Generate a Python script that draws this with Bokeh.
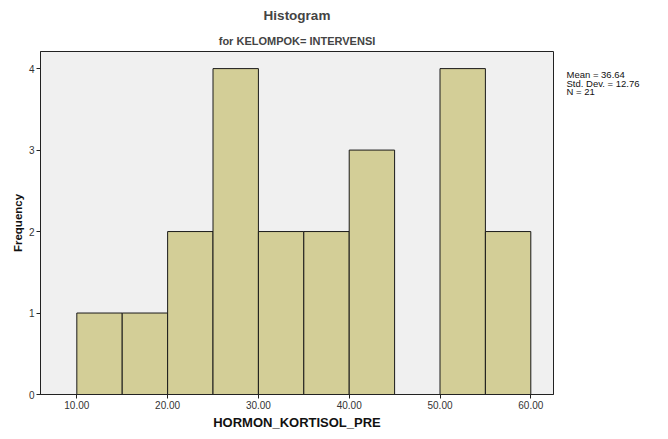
from bokeh.plotting import figure
from bokeh.layouts import row
from bokeh.models import Title, Label, FixedTicker, NumeralTickFormatter, Range1d
from bokeh.embed import file_html
from bokeh.resources import INLINE

bin_left = [10, 15, 20, 25, 30, 35, 40, 45, 50, 55]
bin_right = [15, 20, 25, 30, 35, 40, 45, 50, 55, 60]
counts = [1, 1, 2, 4, 2, 2, 3, 0, 4, 2]
x_ticks = [10, 20, 30, 40, 50, 60]
y_ticks = [0, 1, 2, 3, 4]
stats = ["Mean = 36.64", "Std. Dev. = 12.76", "N = 21"]

FONT = "Liberation Sans"

p = figure(frame_width=513, frame_height=343, output_backend="svg", toolbar_location=None,
           x_range=Range1d(6.0, 62.5), y_range=Range1d(0, 4.21),
           min_border_left=40, min_border_right=4, min_border_top=0, min_border_bottom=0)
p.background_fill_color = "#F0F0F0"
p.border_fill_color = "white"
p.outline_line_color = "#222222"
p.outline_line_width = 1
p.grid.visible = False

p.title.text = "Histogram"
p.title.align = "center"
p.title.text_font = FONT
p.title.text_font_size = "13.5px"
p.title.text_font_style = "bold"
p.title.offset = 0
p.add_layout(Title(text="for KELOMPOK= INTERVENSI", align="center", text_font=FONT,
                   text_font_size="11px", text_font_style="bold"), "above")

p.quad(left=bin_left, right=bin_right, bottom=0, top=counts,
       fill_color="#D3CE97", line_color="#1a1a1a", line_width=1)

p.xaxis.ticker = FixedTicker(ticks=x_ticks)
p.xaxis.formatter = NumeralTickFormatter(format="0.00")
p.yaxis.ticker = FixedTicker(ticks=y_ticks)
for ax in (p.xaxis, p.yaxis):
    ax.minor_tick_line_color = None
    ax.major_tick_in = 0
    ax.major_tick_out = 4
    ax.major_label_standoff = 2
    ax.major_tick_line_color = "#222222"
    ax.axis_line_color = "#222222"
    ax.major_label_text_font = FONT
    ax.major_label_text_font_size = "10px"
    ax.major_label_text_color = "#333333"
    ax.axis_label_text_font = FONT
    ax.axis_label_text_font_style = "bold"
    ax.axis_label_text_color = "#111111"
p.xaxis.axis_label = "HORMON_KORTISOL_PRE"
p.xaxis.axis_label_text_font_size = "13px"
p.xaxis.axis_label_standoff = 3
p.yaxis.axis_label = "Frequency"
p.yaxis.axis_label_text_font_size = "11.5px"
p.yaxis.axis_label_standoff = 2

s = figure(frame_width=88, frame_height=343, output_backend="svg", toolbar_location=None,
           x_range=Range1d(0, 88), y_range=Range1d(0, 343),
           min_border=0)
s.axis.visible = False
s.grid.visible = False
s.outline_line_color = None
s.background_fill_color = "white"
s.border_fill_color = "white"
for i, t in enumerate(stats):
    s.add_layout(Label(x=9, y=320 - i * 8.5, x_units="screen", y_units="screen",
                       text=t, text_font=FONT,
                       text_font_size="9.5px", text_color="#111111",
                       text_baseline="middle"))

open("out.html", "w").write(file_html(row(p, s), INLINE))
